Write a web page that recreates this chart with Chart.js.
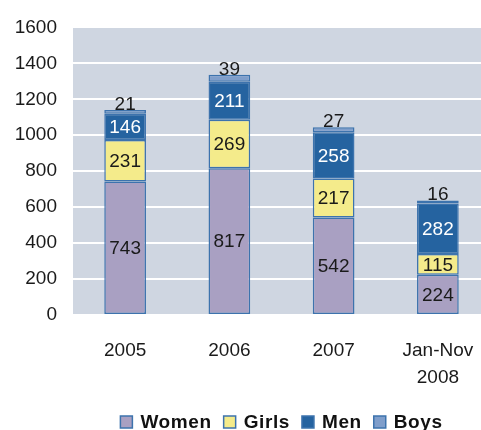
<!DOCTYPE html>
<html>
<head>
<meta charset="utf-8">
<script src="https://cdn.jsdelivr.net/npm/chart.js@4.4.1/dist/chart.umd.min.js"></script>
<style>
  html, body { margin: 0; padding: 0; background: #fff; overflow: hidden; }
  #wrap { width: 490px; height: 430px; }
</style>
</head>
<body>
<div id="wrap"><canvas id="myChart"></canvas></div>
<script>
// data
var years = ['2005', '2006', '2007', ['Jan-Nov', '2008']];
var women = [743, 817, 542, 224];
var girls = [231, 269, 217, 115];
var men   = [146, 211, 258, 282];
var boys  = [21, 39, 27, 16];
var seriesNames = ['Women', 'Girls', 'Men', 'Boys'];
var fills = ['#a9a0c2', '#f4eb8b', '#2563a0', '#7f9ecb'];
var labelColors = ['#1a1a1a', '#1a1a1a', '#ffffff', '#1a1a1a'];
var FONT = '"Liberation Sans", Arial, sans-serif';

// grey-blue plot background
var plotBg = {
  id: 'plotBg',
  beforeDraw: function(chart) {
    var a = chart.chartArea, c = chart.ctx;
    c.save();
    c.fillStyle = '#cfd6e1';
    c.fillRect(a.left, a.top, a.right - a.left, a.bottom - a.top);
    c.restore();
  }
};

// numbers on the segments, boys above the bar
var segLabels = {
  id: 'segLabels',
  afterDatasetsDraw: function(chart) {
    var c = chart.ctx;
    c.save();
    c.font = '19px ' + FONT;
    c.textAlign = 'center';
    chart.data.datasets.forEach(function(ds, i) {
      var meta = chart.getDatasetMeta(i);
      meta.data.forEach(function(bar, j) {
        c.fillStyle = labelColors[i];
        if (i === 3) {
          c.textBaseline = 'alphabetic';
          c.fillText(ds.data[j], bar.x, bar.y);
        } else {
          c.textBaseline = 'middle';
          c.fillText(ds.data[j], bar.x, (bar.y + bar.base) / 2 + 1);
        }
      });
    });
    c.restore();
  }
};

// legend row under the axis
var bottomLegend = {
  id: 'bottomLegend',
  afterDraw: function(chart) {
    var c = chart.ctx, a = chart.chartArea;
    var box = 12, gapText = 8, gapItem = 12, y = 422;
    c.save();
    c.font = 'bold 19px ' + FONT;
    c.letterSpacing = '0.6px';
    var total = 0;
    seriesNames.forEach(function(n, i) {
      total += box + gapText + c.measureText(n).width + (i < seriesNames.length - 1 ? gapItem : 0);
    });
    var x = (a.left + a.right) / 2 - total / 2;
    seriesNames.forEach(function(n, i) {
      c.fillStyle = fills[i];
      c.fillRect(x, y - box / 2, box, box);
      c.strokeStyle = '#3d73ad';
      c.lineWidth = 1.5;
      c.strokeRect(x, y - box / 2, box, box);
      x += box + gapText;
      c.fillStyle = '#111';
      c.textBaseline = 'middle';
      c.textAlign = 'left';
      c.fillText(n, x, y + 1);
      x += c.measureText(n).width + gapItem;
    });
    c.restore();
  }
};

var datasets = [women, girls, men, boys].map(function(vals, i) {
  return {
    label: seriesNames[i],
    data: vals,
    backgroundColor: fills[i],
    borderColor: '#3d73ad',
    borderWidth: 1.5,
    borderSkipped: false,
    barPercentage: 0.4,
    categoryPercentage: 1
  };
});

var ctx = document.getElementById('myChart').getContext('2d');
var myChart = new Chart(ctx, {
  type: 'bar',
  data: { labels: years, datasets: datasets },
  plugins: [plotBg, segLabels, bottomLegend],
  options: {
    responsive: true,
    maintainAspectRatio: false,
    animation: false,
    layout: { padding: { top: 27, right: 0, left: 0, bottom: 0 } },
    plugins: {
      legend: { display: false },
      tooltip: { enabled: false }
    },
    scales: {
      x: {
        stacked: true,
        grid: { display: false },
        border: { display: false },
        ticks: { color: '#1a1a1a', font: { family: FONT, size: 19, lineHeight: 1.42 }, padding: 14, maxRotation: 0 },
        afterFit: function(s) { s.height = 115; }
      },
      y: {
        stacked: true,
        min: 0,
        max: 1600,
        ticks: {
          stepSize: 200,
          color: '#1a1a1a',
          font: { family: FONT, size: 19 },
          padding: 16,
          callback: function(v) { return String(v); }
        },
        grid: { color: '#ffffff', lineWidth: 2, drawTicks: false },
        border: { display: false },
        afterFit: function(s) { s.width = 73; }
      }
    }
  }
});
</script>
</body>
</html>
